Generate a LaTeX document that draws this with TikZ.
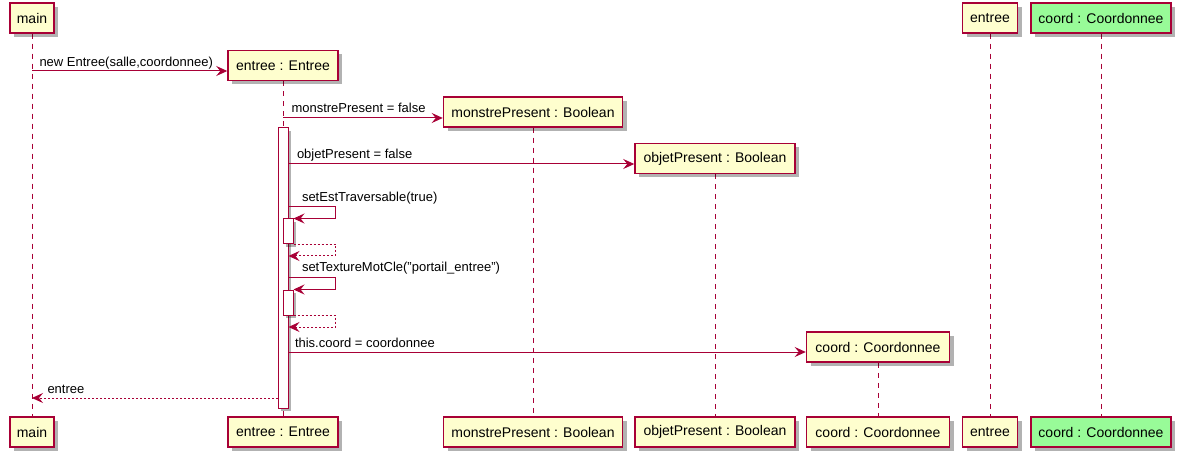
\documentclass[tikz,border=0pt]{standalone}
\usepackage{fontspec}
\setmainfont{Liberation Sans}
\usetikzlibrary{arrows.meta,shadows}
\definecolor{umlred}{HTML}{A80036}
\definecolor{umlfill}{HTML}{FEFECE}
\definecolor{umlgreen}{HTML}{98FB98}
\pgfdeclarelayer{bg}
\pgfsetlayers{bg,main}
\tikzset{
  part/.style={draw=umlred, line width=1.5pt, fill=umlfill, minimum height=30pt, inner sep=0pt,
    font=\fontsize{14}{16}\selectfont,
    drop shadow={shadow xshift=4pt, shadow yshift=-4pt, fill=black, opacity=.3}},
  life/.style={draw=umlred, line width=1pt, dash pattern=on 5pt off 5pt},
  act/.style={draw=umlred, line width=1pt, fill=white, minimum width=10pt, inner sep=0pt,
    drop shadow={shadow xshift=3pt, shadow yshift=-3pt, fill=black, opacity=.3}},
  msg/.style={draw=umlred, line width=1pt, -{Stealth[length=11pt,width=10pt,inset=4pt]}},
  ret/.style={msg, dash pattern=on 2pt off 2pt},
  lbl/.style={font=\fontsize{13}{15}\selectfont, inner sep=0pt, anchor=base west, text=black}
}
\newcommand{\participant}[5]{\node[part, minimum width=#4pt] (#1) at (#2,#3) {#5};}
\newcommand{\lifeline}[2]{\draw[life] (#1.south) -- (#2.north);}

\begin{document}
\begin{tikzpicture}[x=1pt,y=-1pt]
    \useasboundingbox (0,0) rectangle (1181,457);
    % participants, top
    \participant{mainT}{32}{18}{44}{main}
    \participant{entreeC}{283}{65.5}{110}{entree : Entree}
    \participant{monstreC}{533}{112}{179}{monstrePresent : Boolean}
    \participant{objetC}{715}{158.5}{160}{objetPresent : Boolean}
    \participant{coordC}{878}{347}{143}{coord : Coordonnee}
    \participant{entreeT}{990}{18}{55}{entree}
    \node[part, fill=umlgreen, minimum width=140pt] (coordT) at (1101,18) {coord : Coordonnee};
    % participants, bottom
    \participant{mainB}{32}{432}{44}{main}
    \participant{entreeB}{283}{432}{110}{entree : Entree}
    \participant{monstreB}{533}{432}{179}{monstrePresent : Boolean}
    \participant{objetB}{715}{432}{160}{objetPresent : Boolean}
    \participant{coordB}{878}{432}{143}{coord : Coordonnee}
    \participant{entreeBB}{990}{432}{55}{entree}
    \node[part, fill=umlgreen, minimum width=140pt] (coordBB) at (1101,432) {coord : Coordonnee};

    % lifelines
    \begin{pgfonlayer}{bg}
    \lifeline{mainT}{mainB}   \lifeline{entreeC}{entreeB}
    \lifeline{monstreC}{monstreB}   \lifeline{objetC}{objetB}
    \lifeline{coordC}{coordB}   \lifeline{entreeT}{entreeBB}
    \lifeline{coordT}{coordBB}
    \end{pgfonlayer}

    % activations
    \node[act, minimum height=280pt] (barE) at (283,268) {};
    \node[act, minimum height=25pt] (barS1) at (288,231.5) {};
    \node[act, minimum height=25pt] (barS2) at (288,302.5) {};

    % messages
    \draw[msg] (mainT |- 0,71) -- node[lbl, pos=0, xshift=7pt, yshift=4.5pt] {new Entree(salle,coordonnee)} (entreeC.west |- 0,71);
    \draw[msg] (entreeC |- 0,118) -- node[lbl, pos=0, xshift=8pt, yshift=5pt] {monstrePresent = false} (monstreC.west |- 0,118);
    \draw[msg] (barE.east |- 0,164) -- node[lbl, pos=0, xshift=8pt, yshift=5pt] {objetPresent = false} (objetC.west |- 0,164);
    \draw[msg] (barE.east |- 0,207) -- node[lbl, pos=0, xshift=13pt, yshift=5pt] {setEstTraversable(true)} ++(47,0) |- (barS1.north east);
    \draw[ret] (barS1.south east) -- ++(42,0) |- (barE.east |- 0,256);
    \draw[msg] (barE.east |- 0,277) -- node[lbl, pos=0, xshift=13pt, yshift=5pt] {setTextureMotCle("portail\_entree")} ++(47,0) |- (barS2.north east);
    \draw[ret] (barS2.south east) -- ++(42,0) |- (barE.east |- 0,327);
    \draw[msg] (barE.east |- 0,352) -- node[lbl, pos=0, xshift=6pt, yshift=5pt] {this.coord = coordonnee} (coordC.west |- 0,352);
    \draw[ret] (barE.west |- 0,398) -- node[lbl, pos=1, xshift=15pt, yshift=5pt] {entree} (mainT |- 0,398);
\end{tikzpicture}
\end{document}
